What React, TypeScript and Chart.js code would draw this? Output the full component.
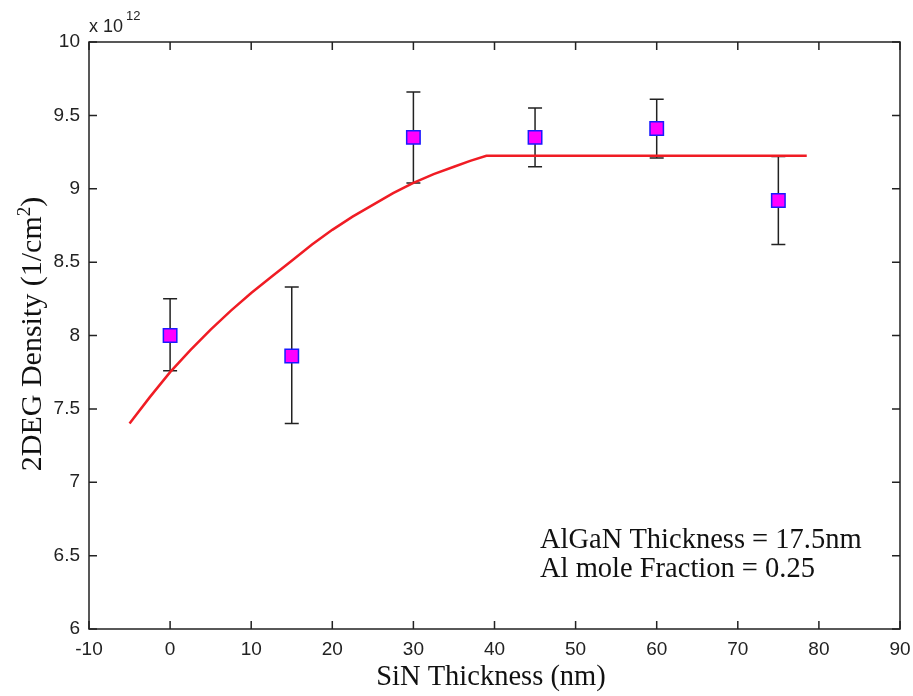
import React, { useEffect, useRef } from "react";
import { Chart, registerables } from "chart.js";

Chart.register(...registerables);

// Measured data (units of 1e12 cm^-2)
const sinThickness = [0, 15, 30, 45, 60, 75];
const density = [8.0, 7.86, 9.35, 9.35, 9.41, 8.92];
const densityUpper = [8.25, 8.33, 9.66, 9.55, 9.61, 9.22];
const densityLower = [7.76, 7.4, 9.04, 9.15, 9.21, 8.62];

// Model curve
const modelX = [-5, -2.5, 0, 2.5, 5, 7.5, 10, 12.5, 15, 17.5, 20, 22.5, 25, 27.5, 30, 32.5, 35, 37, 39, 78.5];
const modelY = [7.4, 7.58, 7.75, 7.9, 8.04, 8.17, 8.29, 8.4, 8.51, 8.62, 8.72, 8.81, 8.89, 8.97, 9.04, 9.1, 9.15, 9.19, 9.225, 9.225];

const xTicks = [-10, 0, 10, 20, 30, 40, 50, 60, 70, 80, 90];
const yTicks = [6, 6.5, 7, 7.5, 8, 8.5, 9, 9.5, 10];

const annotationLines = ["AlGaN Thickness = 17.5nm", "Al mole Fraction = 0.25"];
const xTitle = "SiN Thickness (nm)";
const yTitle = ["2DEG Density (1/cm", "2", ")"];

const SERIF = '"Liberation Serif", "Times New Roman", serif';
const SANS = '"Liberation Sans", Arial, sans-serif';

const framePlugin = {
  id: "frame",
  beforeDatasetDraw(chart: any, args: any) {
    if (args.index !== 1) return;
    const ctx = chart.ctx;
    const xs = chart.scales.x;
    const ys = chart.scales.y;
    ctx.save();
    ctx.strokeStyle = "#222";
    ctx.lineWidth = 1.5;
    for (let i = 0; i < sinThickness.length; i++) {
      const px = xs.getPixelForValue(sinThickness[i]);
      const pt = ys.getPixelForValue(densityUpper[i]);
      const pb = ys.getPixelForValue(densityLower[i]);
      ctx.beginPath();
      ctx.moveTo(px, pt);
      ctx.lineTo(px, pb);
      ctx.moveTo(px - 7, pt);
      ctx.lineTo(px + 7, pt);
      ctx.moveTo(px - 7, pb);
      ctx.lineTo(px + 7, pb);
      ctx.stroke();
    }
    ctx.restore();
  },
  afterDraw(chart: any) {
    const ctx = chart.ctx;
    const { left, right, top, bottom } = chart.chartArea;
    const xs = chart.scales.x;
    const ys = chart.scales.y;
    ctx.save();
    ctx.strokeStyle = "#222";
    ctx.lineWidth = 1.5;
    ctx.strokeRect(left, top, right - left, bottom - top);
    const tl = 8;
    ctx.beginPath();
    xTicks.forEach((v) => {
      const px = xs.getPixelForValue(v);
      ctx.moveTo(px, bottom);
      ctx.lineTo(px, bottom - tl);
      ctx.moveTo(px, top);
      ctx.lineTo(px, top + tl);
    });
    yTicks.forEach((v) => {
      const py = ys.getPixelForValue(v);
      ctx.moveTo(left, py);
      ctx.lineTo(left + tl, py);
      ctx.moveTo(right, py);
      ctx.lineTo(right - tl, py);
    });
    ctx.stroke();

    // exponent label
    ctx.fillStyle = "#222";
    ctx.textBaseline = "alphabetic";
    ctx.textAlign = "left";
    ctx.font = `18px ${SANS}`;
    ctx.fillText("x 10", left, 32);
    const w = ctx.measureText("x 10").width;
    ctx.font = `13px ${SANS}`;
    ctx.fillText("12", left + w + 3, 20);

    // x title
    ctx.fillStyle = "#111";
    ctx.font = `28.5px ${SERIF}`;
    ctx.textAlign = "center";
    ctx.fillText(xTitle, 491, 685);

    // y title with superscript
    ctx.save();
    ctx.translate(41, 334);
    ctx.rotate(-Math.PI / 2);
    ctx.font = `30px ${SERIF}`;
    const w1 = ctx.measureText(yTitle[0]).width;
    ctx.font = `19px ${SERIF}`;
    const w2 = ctx.measureText(yTitle[1]).width;
    ctx.font = `30px ${SERIF}`;
    const w3 = ctx.measureText(yTitle[2]).width;
    const total = w1 + w2 + w3;
    let x0 = -total / 2;
    ctx.textAlign = "left";
    ctx.fillText(yTitle[0], x0, 0);
    x0 += w1;
    ctx.font = `19px ${SERIF}`;
    ctx.fillText(yTitle[1], x0, -11);
    x0 += w2;
    ctx.font = `30px ${SERIF}`;
    ctx.fillText(yTitle[2], x0, 0);
    ctx.restore();

    // annotation
    ctx.font = `28.5px ${SERIF}`;
    ctx.textAlign = "left";
    ctx.textBaseline = "alphabetic";
    annotationLines.forEach((t, i) => {
      ctx.fillText(t, 540, 548 + i * 29);
    });
    ctx.restore();
  },
};

export default function App() {
  const ref = useRef<HTMLCanvasElement | null>(null);
  useEffect(() => {
    if (!ref.current) return;
    const chart = new Chart(ref.current, {
      type: "scatter",
      data: {
        datasets: [
          {
            label: "model",
            data: modelX.map((x, i) => ({ x, y: modelY[i] })),
            showLine: true,
            borderColor: "rgb(240,28,36)",
            borderWidth: 2.5,
            pointRadius: 0,
            tension: 0,
            fill: false,
          },
          {
            label: "measured",
            data: sinThickness.map((x, i) => ({ x, y: density[i] })),
            showLine: false,
            pointStyle: "rect",
            pointRadius: 9.5,
            backgroundColor: "#ff00ff",
            borderColor: "#1a1aff",
            borderWidth: 1.5,
          },
        ],
      },
      options: {
        animation: false,
        responsive: false,
        maintainAspectRatio: false,
        layout: { padding: { left: 0, right: 13, top: 42, bottom: 0 } },
        plugins: { legend: { display: false }, tooltip: { enabled: false } },
        scales: {
          x: {
            type: "linear",
            min: -10,
            max: 90,
            afterBuildTicks: (s: any) => {
              s.ticks = xTicks.map((v) => ({ value: v }));
            },
            afterFit: (s: any) => {
              s.height = 67;
              s.paddingLeft = 0;
              s.paddingRight = 0;
            },
            grid: { display: false, drawTicks: false },
            border: { display: false },
            ticks: {
              color: "#222",
              font: { family: SANS, size: 19 },
              padding: 9,
              maxRotation: 0,
              callback: (v: any) => String(v),
            },
          },
          y: {
            type: "linear",
            min: 6,
            max: 10,
            afterBuildTicks: (s: any) => {
              s.ticks = yTicks.map((v) => ({ value: v }));
            },
            afterFit: (s: any) => {
              s.width = 89;
              s.paddingTop = 0;
              s.paddingBottom = 0;
            },
            grid: { display: false, drawTicks: false },
            border: { display: false },
            ticks: {
              color: "#222",
              font: { family: SANS, size: 19 },
              padding: 9,
              callback: (v: any) => String(v),
            },
          },
        },
      },
      plugins: [framePlugin],
    } as any);
    return () => chart.destroy();
  }, []);
  return (
    <div style={{ position: "fixed", left: 0, top: 0, width: 913, height: 696, background: "#fff" }}>
      <canvas ref={ref} width={913} height={696} style={{ display: "block" }} />
    </div>
  );
}
